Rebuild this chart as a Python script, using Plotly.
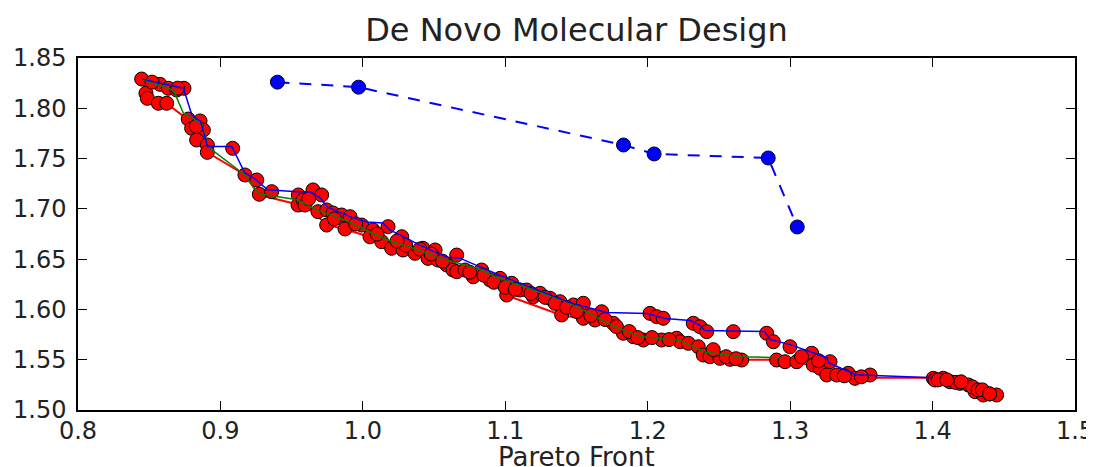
import plotly.graph_objects as go

# ── Colours ──────────────────────────
C_RED = "#ff0000"
C_GREEN = "#008000"
C_BLUE = "#0000ff"
C_EDGE = "#000000"
C_TEXT = "#222222"
FONT = "DejaVu Sans"

# ── Data: all evaluated molecules ────
pts_x = [0.8447, 0.8477, 0.8487, 0.8576, 0.8634, 0.8564, 0.8623, 0.8693, 0.8744, 0.8774,
         0.8857, 0.8798, 0.8880, 0.8833, 0.8908, 0.8908, 0.9086, 0.9172, 0.9255, 0.9273,
         0.9360, 0.9547, 0.9545, 0.9580, 0.9650, 0.9711, 0.9594, 0.9685, 0.9746, 0.9790,
         0.9851, 0.9910, 0.9746, 0.9875, 0.9992, 1.0071, 1.0050, 1.0177, 1.0132, 1.0202,
         1.0273, 1.0282, 1.0366, 1.0422, 1.0507, 1.0457, 1.0528, 1.0589, 1.0659, 1.0633,
         1.0659, 1.0717, 1.0775, 1.0834, 1.0893, 1.0963, 1.1010, 1.1045, 1.1103, 1.1150,
         1.1197, 1.1244, 1.1314, 1.1384, 1.1396, 1.1478, 1.1548, 1.1548, 1.1630, 1.1677,
         1.1758, 1.1829, 1.1899, 1.1969, 1.2016, 1.2063, 1.2109, 1.2098, 1.2203, 1.2227,
         1.2285, 1.2320, 1.2367, 1.2414, 1.2355, 1.2390, 1.2437, 1.2507, 1.2601, 1.2578,
         1.2660, 1.2835, 1.2882, 1.2905, 1.2999, 1.2964, 1.3046, 1.3151, 1.3163, 1.3210,
         1.3280, 1.3257, 1.3327, 1.3408, 1.3455, 1.3561, 1.4005, 1.4017, 1.4075, 1.4122,
         1.4192, 1.4251, 1.4298, 1.4356, 1.4450, 1.4040, 1.4160, 1.4280, 1.4320, 1.4400,
         1.0300, 1.0400, 1.0480, 1.0560, 1.0750, 1.0850, 1.0920, 1.1000, 1.1070, 1.1180,
         1.1280, 1.1350, 1.1430, 1.1500, 1.1600, 1.1700, 1.1780, 1.1870, 1.1930, 1.2030,
         1.2150, 1.2460, 1.2550, 1.2620, 1.3080, 1.3200, 1.3380, 1.3500, 0.9800, 0.9950,
         1.0100, 1.0240, 0.9620, 0.8830, 0.8700, 0.8520, 1.4100, 1.4200, 1.4350, 1.4400]
pts_y = [1.8291, 1.8149, 1.8099, 1.8238, 1.8199, 1.8050, 1.8050, 1.8182, 1.8199, 1.7893,
         1.7874, 1.7801, 1.7784, 1.7685, 1.7635, 1.7562, 1.7602, 1.7337, 1.7287, 1.7145,
         1.7171, 1.7138, 1.7038, 1.7088, 1.7188, 1.7138, 1.7038, 1.6972, 1.6989, 1.6959,
         1.6939, 1.6922, 1.6839, 1.6800, 1.6839, 1.6790, 1.6723, 1.6823, 1.6673, 1.6608,
         1.6723, 1.6591, 1.6558, 1.6608, 1.6591, 1.6508, 1.6491, 1.6442, 1.6541, 1.6392,
         1.6375, 1.6392, 1.6325, 1.6392, 1.6293, 1.6309, 1.6143, 1.6260, 1.6193, 1.6193,
         1.6127, 1.6160, 1.6111, 1.6077, 1.5945, 1.6044, 1.6061, 1.5912, 1.5895, 1.5977,
         1.5862, 1.5763, 1.5729, 1.5696, 1.5961, 1.5928, 1.5912, 1.5696, 1.5713, 1.5679,
         1.5663, 1.5862, 1.5828, 1.5779, 1.5629, 1.5547, 1.5530, 1.5514, 1.5779, 1.5504,
         1.5497, 1.5763, 1.5679, 1.5497, 1.5629, 1.5480, 1.5480, 1.5564, 1.5447, 1.5415,
         1.5480, 1.5348, 1.5348, 1.5365, 1.5315, 1.5348, 1.5315, 1.5298, 1.5315, 1.5281,
         1.5265, 1.5249, 1.5182, 1.5149, 1.5149, 1.5300, 1.5275, 1.5230, 1.5200, 1.5160,
         1.6640, 1.6600, 1.6550, 1.6480, 1.6370, 1.6340, 1.6270, 1.6220, 1.6200, 1.6160,
         1.6120, 1.6060, 1.6020, 1.5980, 1.5940, 1.5900, 1.5830, 1.5780, 1.5720, 1.5720,
         1.5700, 1.5600, 1.5530, 1.5510, 1.5530, 1.5490, 1.5340, 1.5330, 1.6900, 1.6850,
         1.6750, 1.6680, 1.7100, 1.7820, 1.8200, 1.8260, 1.5300, 1.5280, 1.5200, 1.5160]

# ── Pareto fronts ────────────────────
red_x = [0.845, 0.849, 0.862, 0.877, 0.891, 0.917, 0.927, 0.955, 0.959, 0.975, 0.987, 1.005,
         1.020, 1.046, 1.063, 1.089, 1.101, 1.140, 1.155, 1.176, 1.183, 1.197, 1.210, 1.236,
         1.239, 1.266, 1.291, 1.296, 1.316, 1.326, 1.346, 1.401, 1.419, 1.430, 1.436, 1.445]
red_y = [1.829, 1.810, 1.805, 1.789, 1.756, 1.734, 1.714, 1.704, 1.704, 1.684, 1.680, 1.672,
         1.661, 1.651, 1.639, 1.629, 1.614, 1.594, 1.591, 1.586, 1.576, 1.570, 1.570, 1.563,
         1.555, 1.550, 1.550, 1.548, 1.545, 1.535, 1.532, 1.532, 1.527, 1.518, 1.515, 1.515]

green_x = [0.846, 0.867, 0.874, 0.887, 0.891, 0.917, 0.927, 0.954, 0.969, 0.987, 1.005, 1.021,
           1.033, 1.054, 1.080, 1.096, 1.124, 1.144, 1.159, 1.175, 1.195, 1.223, 1.239, 1.265,
           1.293]
green_y = [1.828, 1.818, 1.795, 1.785, 1.762, 1.734, 1.715, 1.709, 1.698, 1.689, 1.677, 1.667,
           1.662, 1.651, 1.641, 1.631, 1.617, 1.607, 1.596, 1.584, 1.573, 1.569, 1.558, 1.553,
           1.552]

blue_x = [0.845, 0.874, 0.880, 0.886, 0.891, 0.908, 0.917, 0.925, 0.933, 0.954, 0.963, 0.970,
          0.975, 0.993, 1.003, 1.014, 1.019, 1.026, 1.040, 1.059, 1.068, 1.096, 1.124, 1.145,
          1.171, 1.200, 1.212, 1.230, 1.237, 1.240, 1.282, 1.286, 1.300, 1.314, 1.326, 1.327,
          1.346, 1.400]
blue_y = [1.829, 1.820, 1.793, 1.787, 1.762, 1.762, 1.736, 1.729, 1.719, 1.717, 1.717, 1.711,
          1.702, 1.691, 1.687, 1.686, 1.679, 1.674, 1.664, 1.652, 1.651, 1.634, 1.619, 1.607,
          1.597, 1.596, 1.591, 1.589, 1.584, 1.579, 1.578, 1.570, 1.565, 1.558, 1.552, 1.547,
          1.535, 1.532]

# ── Initial population front (dashed) ─
init_x = [0.940, 0.997, 1.183, 1.2045, 1.2846, 1.305]
init_y = [1.826, 1.821, 1.7635, 1.7546, 1.7506, 1.682]

x_ticks = [0.8, 0.9, 1.0, 1.1, 1.2, 1.3, 1.4, 1.5]
y_ticks = [1.50, 1.55, 1.60, 1.65, 1.70, 1.75, 1.80, 1.85]

fig = go.Figure()

fig.add_trace(go.Scatter(
    x=red_x, y=red_y, mode="lines",
    line=dict(color=C_RED, width=2),
))
fig.add_trace(go.Scatter(
    x=pts_x, y=pts_y, mode="markers",
    marker=dict(color=C_RED, size=14, line=dict(color=C_EDGE, width=1)),
))
fig.add_trace(go.Scatter(
    x=green_x, y=green_y, mode="lines",
    line=dict(color=C_GREEN, width=1.5),
))
fig.add_trace(go.Scatter(
    x=blue_x, y=blue_y, mode="lines",
    line=dict(color=C_BLUE, width=1.5),
))
fig.add_trace(go.Scatter(
    x=init_x, y=init_y, mode="lines+markers",
    line=dict(color=C_BLUE, width=2, dash="12px,10px"),
    marker=dict(color=C_BLUE, size=14, line=dict(color="#000033", width=1)),
))

axis_style = dict(
    showgrid=False, zeroline=False, automargin=False,
    showline=True, linecolor="#000000", linewidth=1.5, mirror="ticks",
    ticks="inside", ticklen=9, tickwidth=1, tickcolor="#000000",
    tickfont=dict(family=FONT, size=24, color=C_TEXT),
    ticklabeloverflow="allow",
)

# page body carries an 8px default margin, so the canvas is trimmed by that much
fig.update_layout(
    width=1086, height=459,
    paper_bgcolor="white", plot_bgcolor="white",
    showlegend=False,
    margin=dict(l=70, r=19, t=50, b=57),
    title=dict(
        text="De Novo Molecular Design",
        font=dict(family=FONT, size=32, color=C_TEXT),
        x=0.5, xref="paper", xanchor="center",
        y=1 - 22 / 459, yref="container", yanchor="middle",
    ),
    xaxis=dict(
        **axis_style, range=[0.8, 1.5], tickvals=x_ticks,
        ticktext=[f"{v:.1f}" for v in x_ticks], ticklabelstandoff=-2,
    ),
    yaxis=dict(
        **axis_style, range=[1.50, 1.85], tickvals=y_ticks,
        ticktext=[f"{v:.2f}" for v in y_ticks], ticklabelstandoff=5,
    ),
    annotations=[dict(
        text="Pareto Front", xref="paper", yref="paper",
        x=0.5, y=-0.1335, xanchor="center", yanchor="middle",
        showarrow=False, font=dict(family=FONT, size=26, color=C_TEXT),
    )],
)

fig.write_html("out.html")
